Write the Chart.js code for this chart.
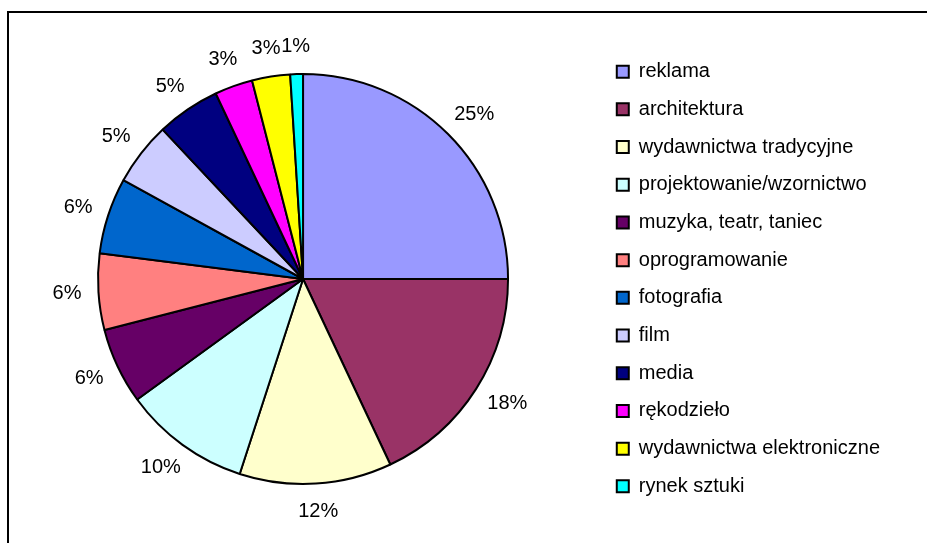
<!DOCTYPE html>
<html>
<head>
<meta charset="utf-8">
<script src="https://cdn.jsdelivr.net/npm/chart.js@4"></script>
<style>
  body { margin: 0; background: #fff; }
  #wrap { position: relative; width: 927px; height: 543px; overflow: hidden; }
  #frame { position: absolute; left: 7px; top: 11px; width: 2000px; height: 2000px;
           border-top: 2px solid #000; border-left: 2px solid #000; }
  canvas { position: absolute; left: 0; top: 0; }
</style>
</head>
<body>
<div id="wrap">
  <div id="frame"></div>
  <canvas id="pie" width="927" height="543"></canvas>
</div>
<script>
const categories = [
  'reklama', 'architektura', 'wydawnictwa tradycyjne', 'projektowanie/wzornictwo',
  'muzyka, teatr, taniec', 'oprogramowanie', 'fotografia', 'film', 'media',
  'rękodzieło', 'wydawnictwa elektroniczne', 'rynek sztuki'
];
const shares = [25, 18, 12, 10, 6, 6, 6, 5, 5, 3, 3, 1];
const colors = [
  '#9999FF', '#993366', '#FFFFCC', '#CCFFFF', '#660066', '#FF8080',
  '#0066CC', '#CCCCFF', '#000080', '#FF00FF', '#FFFF00', '#00FFFF'
];

const FONT = 'Liberation Sans, Arial, sans-serif';

// percentage labels outside the pie, Excel style
const outsideLabels = {
  id: 'outsideLabels',
  afterDatasetsDraw(chart) {
    const ctx = chart.ctx;
    const meta = chart.getDatasetMeta(0);
    const total = shares.reduce((a, b) => a + b, 0);
    ctx.save();
    ctx.font = '20px ' + FONT;
    ctx.fillStyle = '#000';
    ctx.textAlign = 'center';
    ctx.textBaseline = 'middle';
    meta.data.forEach((arc, i) => {
      const p = arc.getProps(['x', 'y', 'startAngle', 'endAngle', 'outerRadius'], true);
      const mid = (p.startAngle + p.endAngle) / 2;
      const dx = Math.cos(mid), dy = Math.sin(mid);
      const text = Math.round(shares[i] / total * 100) + '%';
      const w = ctx.measureText(text).width;
      const h = 22;
      const d = p.outerRadius + 17;
      const x = p.x + dx * d + dx * w / 2;
      const y = p.y + dy * d + dy * h / 2;
      ctx.fillText(text, x, y);
    });
    ctx.restore();
  }
};

new Chart(document.getElementById('pie'), {
  type: 'pie',
  data: {
    labels: categories,
    datasets: [{
      data: shares,
      backgroundColor: colors,
      borderColor: '#000',
      borderWidth: 2,
      radius: 205
    }]
  },
  options: {
    responsive: false,
    animation: false,
    layout: { padding: { left: 7, right: 37, top: 31, bottom: 16 } },
    plugins: {
      tooltip: { enabled: false },
      legend: {
        position: 'right',
        labels: {
          boxWidth: 12,
          boxHeight: 12,
          padding: 17.7,
          color: '#000',
          font: { size: 20, family: FONT }
        }
      }
    }
  },
  plugins: [outsideLabels]
});
</script>
</body>
</html>
